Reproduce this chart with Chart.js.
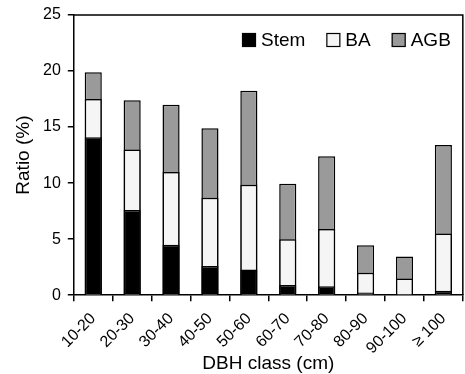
<!DOCTYPE html>
<html>
<head>
<meta charset="utf-8">
<script src="https://cdn.jsdelivr.net/npm/chart.js@4"></script>
<style>
  html, body { margin: 0; padding: 0; background: #fff; }
  #wrap { width: 465px; height: 374px; }
</style>
</head>
<body>
<div id="wrap"><canvas id="my-bar-chart"></canvas></div>
<script>
// DBH classes and ratio (%) of each variable
const classes = ["10-20", "20-30", "30-40", "40-50", "50-60", "60-70", "70-80", "80-90", "90-100", "\u2265 100"];
const stemValues = [14.1, 7.6, 4.5, 2.6, 2.3, 0.9, 0.8, 0.25, 0.1, 0.4];
const baValues = [17.5, 13.0, 11.0, 8.7, 9.85, 5.0, 5.9, 2.0, 1.5, 5.5];
const agbValues = [19.9, 17.4, 17.0, 14.9, 18.25, 9.95, 12.4, 4.45, 3.45, 13.4];
const yTicks = [0, 5, 10, 15, 20, 25];

const fontFamily = "'Liberation Sans', Arial, sans-serif";
Chart.defaults.font.family = fontFamily;
Chart.defaults.font.size = 16;
Chart.defaults.color = "#000";

// top and right edges of the frame
const frameBox = {
  id: "frameBox",
  afterDraw(chart) {
    const { ctx, chartArea } = chart;
    ctx.save();
    ctx.strokeStyle = "#000";
    ctx.lineWidth = 1.5;
    ctx.beginPath();
    ctx.moveTo(chartArea.left, chartArea.top);
    ctx.lineTo(chartArea.right, chartArea.top);
    ctx.lineTo(chartArea.right, chartArea.bottom);
    ctx.stroke();
    ctx.restore();
  },
};

// legend in one row, inside the plot, top right
const innerLegend = {
  id: "innerLegend",
  afterDraw(chart) {
    const { ctx, chartArea } = chart;
    const box = 14;
    const gap = 5;
    const spacing = 21;
    const y = chartArea.top + 25;
    ctx.save();
    ctx.font = "19px " + fontFamily;
    ctx.textBaseline = "middle";
    const items = chart.data.datasets.map((d) => ({
      label: d.label,
      color: d.backgroundColor,
      w: ctx.measureText(d.label).width,
    }));
    let total = 0;
    items.forEach((it, i) => {
      total += box + gap + it.w + (i < items.length - 1 ? spacing : 0);
    });
    let x = chartArea.right - 12 - total;
    items.forEach((it) => {
      ctx.fillStyle = it.color;
      ctx.fillRect(x, y - box / 2, box, box);
      ctx.strokeStyle = "#000";
      ctx.lineWidth = 1.2;
      ctx.strokeRect(x + 0.5, y - box / 2 + 0.5, box - 1, box - 1);
      ctx.fillStyle = "#000";
      ctx.fillText(it.label, x + box + gap, y + 1);
      x += box + gap + it.w + spacing;
    });
    ctx.restore();
  },
};

const drawChart = () => {
  let ctx = document.querySelector("#my-bar-chart");

  const data = {
    labels: classes,
    datasets: [
      { label: "Stem", data: stemValues, backgroundColor: "#000000" },
      { label: "BA", data: baValues, backgroundColor: "#f4f5f4" },
      { label: "AGB", data: agbValues, backgroundColor: "#9a9a9a" },
    ].map((d) => ({
      ...d,
      borderColor: "#000",
      borderWidth: 1.5,
      borderSkipped: "bottom",
      categoryPercentage: 1,
      barPercentage: 0.44,
    })),
  };

  new Chart(ctx, {
    type: "bar",
    data: data,
    options: {
      responsive: true,
      maintainAspectRatio: false,
      animation: false,
      layout: { padding: { top: 0, right: 1, left: 10, bottom: 0 } },
      plugins: {
        tooltip: { enabled: false },
        legend: { display: false },
      },
      scales: {
        x: {
          stacked: true,
          grid: { drawOnChartArea: false, color: "#000", lineWidth: 1.5, tickLength: 6 },
          border: { color: "#000", width: 1.5 },
          ticks: { minRotation: 45, maxRotation: 45, padding: 8, font: { size: 16 } },
          title: { display: true, text: "DBH class (cm)", font: { size: 19, lineHeight: 1 }, padding: { top: -12, bottom: 1 } },
        },
        y: {
          stacked: false,
          min: 0,
          max: 25,
          afterBuildTicks: (axis) => {
            axis.ticks = yTicks.map((v) => ({ value: v }));
          },
          grid: { drawOnChartArea: false, color: "#000", lineWidth: 1.5, tickLength: 6 },
          border: { color: "#000", width: 1.5 },
          ticks: { padding: 7, font: { size: 16, lineHeight: 1 } },
          title: { display: true, text: "Ratio (%)", font: { size: 19, lineHeight: 1 }, padding: { bottom: 3 } },
        },
      },
    },
    plugins: [frameBox, innerLegend],
  });
};

drawChart();
</script>
</body>
</html>
